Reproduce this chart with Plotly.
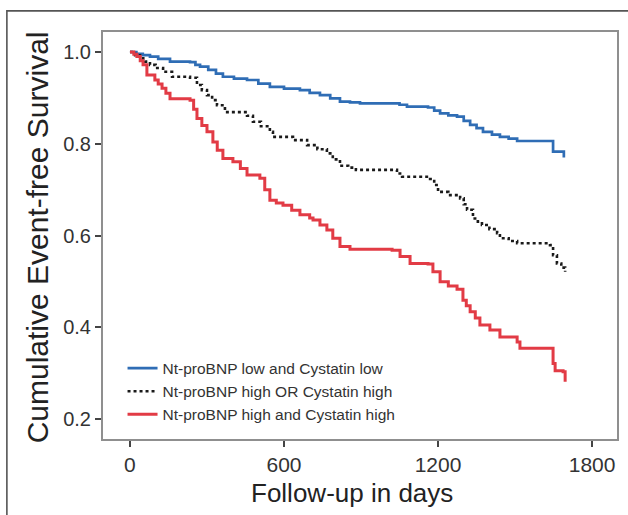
import plotly.graph_objects as go

# Kaplan-Meier step data (days, survival after step)
blue_t = [0, 25, 50, 78, 110, 156, 234, 255, 273, 305, 335, 362, 405, 456, 500, 545, 600, 662, 700, 740,
          780, 818, 857, 896, 1050, 1079, 1161, 1185, 1208, 1240, 1274, 1300, 1325, 1350, 1375, 1410, 1441,
          1475, 1508, 1648, 1690]
blue_s = [1.0, 0.996, 0.993, 0.990, 0.985, 0.979, 0.978, 0.972, 0.968, 0.961, 0.953, 0.946, 0.942, 0.939,
          0.931, 0.924, 0.920, 0.917, 0.911, 0.906, 0.899, 0.892, 0.890, 0.888, 0.885, 0.881, 0.879, 0.872,
          0.866, 0.862, 0.859, 0.850, 0.841, 0.834, 0.826, 0.820, 0.815, 0.811, 0.806, 0.783, 0.770]

black_t = [0, 20, 39, 60, 78, 100, 129, 164, 234, 261, 280, 300, 320, 339, 370, 456, 479, 510, 545, 557,
           635, 690, 730, 767, 790, 818, 850, 880, 1040, 1060, 1169, 1185, 1200, 1240, 1286, 1300, 1313,
           1336, 1355, 1371, 1400, 1430, 1441, 1475, 1508, 1636, 1648, 1663, 1680, 1695]
black_s = [1.0, 0.993, 0.986, 0.979, 0.972, 0.965, 0.957, 0.946, 0.944, 0.928, 0.917, 0.906, 0.895, 0.884,
           0.869, 0.861, 0.848, 0.838, 0.826, 0.815, 0.808, 0.797, 0.788, 0.779, 0.766, 0.752, 0.748, 0.743,
           0.735, 0.728, 0.723, 0.710, 0.695, 0.688, 0.681, 0.668, 0.656, 0.637, 0.630, 0.623, 0.614, 0.605,
           0.594, 0.588, 0.583, 0.579, 0.557, 0.539, 0.530, 0.521]

red_t = [0, 15, 27, 40, 51, 66, 97, 110, 125, 140, 156, 234, 248, 261, 280, 300, 323, 340, 362, 401, 430,
         456, 506, 525, 545, 570, 596, 630, 662, 700, 713, 740, 767, 790, 818, 857, 1021, 1052, 1091, 1161,
         1180, 1208, 1240, 1274, 1297, 1310, 1325, 1345, 1363, 1402, 1441, 1508, 1519, 1648, 1656, 1687, 1695]
red_s = [1.0, 0.995, 0.990, 0.981, 0.972, 0.950, 0.939, 0.930, 0.921, 0.910, 0.898, 0.895, 0.875, 0.855,
         0.840, 0.826, 0.804, 0.786, 0.768, 0.761, 0.746, 0.732, 0.725, 0.700, 0.677, 0.671, 0.666, 0.655,
         0.645, 0.638, 0.634, 0.623, 0.612, 0.594, 0.576, 0.570, 0.568, 0.554, 0.539, 0.538, 0.521, 0.499,
         0.490, 0.483, 0.459, 0.447, 0.434, 0.420, 0.405, 0.394, 0.379, 0.368, 0.354, 0.321, 0.305, 0.303,
         0.281]

names = ["Nt-proBNP low and Cystatin low",
         "Nt-proBNP high OR Cystatin high",
         "Nt-proBNP high and Cystatin high"]

x_title = "Follow-up in days"
y_title = "Cumulative Event-free Survival"
x_ticks = [0, 600, 1200, 1800]
y_ticks = [0.2, 0.4, 0.6, 0.8, 1.0]

fig = go.Figure()
fig.add_trace(go.Scatter(x=blue_t, y=blue_s, mode="lines", name=names[0],
                         line=dict(color="#2f6db5", width=2.7, shape="hv")))
fig.add_trace(go.Scatter(x=black_t, y=black_s, mode="lines", name=names[1],
                         line=dict(color="#1a1a1a", width=2.6, shape="hv", dash="dot")))
fig.add_trace(go.Scatter(x=red_t, y=red_s, mode="lines", name=names[2],
                         line=dict(color="#e23b45", width=3, shape="hv")))

fig.update_layout(
    width=628, height=515,
    margin=dict(l=103, r=11, t=32, b=76, autoexpand=False),
    paper_bgcolor="white", plot_bgcolor="white",
    font=dict(family="Liberation Sans, Arial, sans-serif", color="#333333"),
    showlegend=True,
    legend=dict(x=0.038, y=0.215, xanchor="left", yanchor="top",
                bgcolor="rgba(0,0,0,0)", font=dict(size=15.5, color="#333333"),
                tracegroupgap=0, itemwidth=30),
    shapes=[dict(type="rect", xref="paper", yref="paper",
                 x0=-0.187, y0=-0.5, x1=1.3, y1=1.052,
                 line=dict(color="#555555", width=1.6), layer="below")],
    annotations=[
        dict(text=x_title, xref="paper", yref="paper", x=0.484, y=-0.1327,
             xanchor="center", yanchor="middle", showarrow=False,
             font=dict(size=26, color="#222222")),
        dict(text=y_title, xref="paper", yref="paper", x=-0.128, y=0.496,
             xanchor="center", yanchor="middle", showarrow=False, textangle=-90,
             font=dict(size=30, color="#222222")),
    ],
)
fig.update_xaxes(range=[-105, 1897], tickvals=x_ticks, ticktext=[str(v) for v in x_ticks],
                 showgrid=False, zeroline=False, showline=True, mirror=True, automargin=False,
                 linecolor="#8f8f8f", linewidth=2, ticks="outside", ticklen=6,
                 tickcolor="#444444", tickwidth=1.5, tickfont=dict(size=21))
fig.update_yaxes(range=[0.1564, 1.0436], tickvals=y_ticks, ticktext=[f"{v:.1f}" for v in y_ticks],
                 showgrid=False, zeroline=False, showline=True, mirror=True, automargin=False,
                 linecolor="#8f8f8f", linewidth=2, ticks="outside", ticklen=6,
                 tickcolor="#444444", tickwidth=1.5, tickfont=dict(size=20))

fig.write_html("out.html", config={"displayModeBar": False},
               post_script="document.body.style.margin='0px';")
